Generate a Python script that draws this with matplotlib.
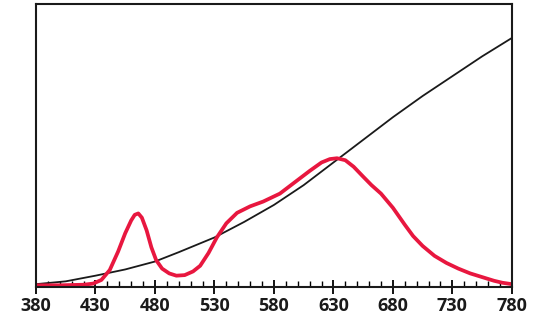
import matplotlib.pyplot as plt
from matplotlib.ticker import MultipleLocator

# wavelength grid (nm) and the two curves
wl_black = [380, 405, 430, 455, 480, 500, 530, 555, 580, 605, 630, 655, 680, 705, 730, 755, 780]
black = [0.01, 0.02, 0.04, 0.062, 0.09, 0.123, 0.175, 0.23, 0.29, 0.36, 0.44, 0.52, 0.60, 0.675, 0.745, 0.815, 0.88]

wl_red = [380, 400, 420, 428, 435, 442, 449, 455, 460, 463, 466, 469, 473, 477, 481, 486,
          492, 498, 505, 512, 518, 525, 532, 540, 549, 560, 571, 585, 600, 610,
          620, 627, 633, 640, 647, 655, 662, 670, 680, 690, 697, 705, 715,
          725, 735, 745, 755, 765, 772, 780]
red = [0.006, 0.006, 0.008, 0.012, 0.025, 0.06, 0.125, 0.19, 0.235, 0.255, 0.26, 0.245, 0.2, 0.14, 0.095, 0.065,
       0.048, 0.04, 0.042, 0.055, 0.075, 0.12, 0.175, 0.225, 0.262, 0.285, 0.302, 0.33, 0.378, 0.41,
       0.44, 0.452, 0.455, 0.448, 0.425, 0.39, 0.36, 0.33, 0.28, 0.22, 0.18, 0.145, 0.11,
       0.085, 0.065, 0.048, 0.035, 0.022, 0.015, 0.01]

xticks = [380, 430, 480, 530, 580, 630, 680, 730, 780]

fig = plt.figure(figsize=(5.42, 3.35), dpi=100)
ax = fig.add_axes([0.0664, 0.1433, 0.878, 0.8447])

ax.plot(wl_black, black, color='#1a1a1a', lw=1.3)
ax.plot(wl_red, red, color='#e8173f', lw=2.7, solid_capstyle='round', solid_joinstyle='round')

ax.set_xlim(380, 780)
ax.set_ylim(0, 1)
ax.set_xticks(xticks)
ax.set_xticklabels([str(t) for t in xticks], fontsize=13, fontweight='bold',
                   family='Open Sans', color='#1a1a1a')
ax.xaxis.set_minor_locator(MultipleLocator(10))
ax.tick_params(axis='x', which='major', direction='inout', length=10, width=1.3, pad=2)
ax.tick_params(axis='x', which='minor', direction='in', length=4, width=1.0)
ax.set_yticks([])
for s in ax.spines.values():
    s.set_linewidth(1.5)
    s.set_color('#1a1a1a')

fig.savefig('out.png', dpi=100)
